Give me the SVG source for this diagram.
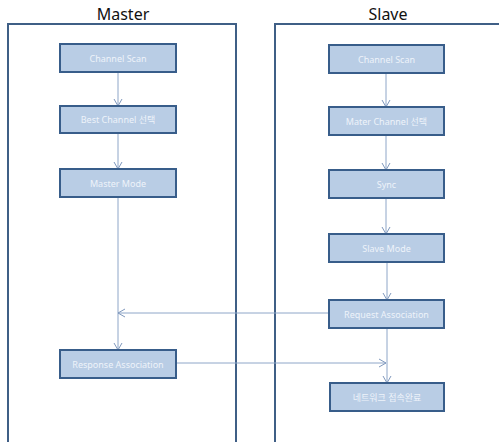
<svg xmlns="http://www.w3.org/2000/svg" width="499" height="442" viewBox="0 0 499 442">
<defs>
<marker id="arr" markerWidth="10" markerHeight="10" refX="8" refY="5" orient="auto" markerUnits="userSpaceOnUse">
<path d="M1,1 L8,5 L1,9" fill="none" stroke="#7f98bd" stroke-width="1"/>
</marker>
</defs>
<style>
.frame{fill:#ffffff;stroke:#3f5f86;stroke-width:2}
.title{font-family:"Noto Sans","Liberation Sans",sans-serif;font-size:16px;fill:#111111;text-anchor:middle}
.box{fill:#b9cde5;stroke:#385d8a;stroke-width:2}
.lbl{font-family:"Noto Sans","Noto Sans CJK KR",sans-serif;font-size:9px;fill:#eef3fa;text-anchor:middle;dominant-baseline:central}
.con{fill:none;stroke:#8ea6c8;stroke-width:1;marker-end:url(#arr)}
</style>
<rect width="499" height="442" fill="#ffffff"/>
<g id="master-lane">
<rect class="frame" x="8" y="24" width="228" height="430"/>
<text class="title" x="123" y="20">Master</text>
</g>
<g id="slave-lane">
<rect class="frame" x="275" y="24" width="240" height="430"/>
<text class="title" x="388" y="20">Slave</text>
</g>
<g id="connectors">
<line class="con" x1="118" y1="72" x2="118" y2="106"/>
<line class="con" x1="118" y1="133" x2="118" y2="169"/>
<line class="con" x1="118" y1="197" x2="118" y2="350"/>
<line class="con" x1="386" y1="73" x2="386" y2="107"/>
<line class="con" x1="386" y1="135" x2="386" y2="170"/>
<line class="con" x1="386" y1="198" x2="386" y2="234"/>
<line class="con" x1="387" y1="262" x2="387" y2="300"/>
<line class="con" x1="387" y1="328" x2="387" y2="383"/>
<line class="con" x1="328" y1="313" x2="118" y2="313"/>
<line class="con" x1="176" y1="363" x2="386" y2="363"/>
</g>
<g id="m-scan"><rect class="box" x="60" y="44" width="116" height="28"/><text class="lbl" x="118" y="58">Channel Scan</text></g>
<g id="m-best"><rect class="box" x="60" y="106" width="116" height="27"/><text class="lbl" x="118" y="119.5">Best Channel 선택</text></g>
<g id="m-mode"><rect class="box" x="60" y="169" width="116" height="28"/><text class="lbl" x="118" y="183">Master Mode</text></g>
<g id="m-resp"><rect class="box" x="60" y="350" width="116" height="28"/><text class="lbl" x="118" y="364">Response Association</text></g>
<g id="s-scan"><rect class="box" x="329" y="45" width="115" height="28"/><text class="lbl" x="386.5" y="59">Channel Scan</text></g>
<g id="s-mater"><rect class="box" x="329" y="107" width="115" height="28"/><text class="lbl" x="386.5" y="121">Mater Channel 선택</text></g>
<g id="s-sync"><rect class="box" x="329" y="170" width="115" height="28"/><text class="lbl" x="386.5" y="184">Sync</text></g>
<g id="s-mode"><rect class="box" x="329" y="234" width="115" height="28"/><text class="lbl" x="386.5" y="248">Slave Mode</text></g>
<g id="s-req"><rect class="box" x="329" y="300" width="115" height="28"/><text class="lbl" x="386.5" y="314">Request Association</text></g>
<g id="s-done"><rect class="box" x="330" y="383" width="114" height="28"/><text class="lbl" x="387" y="397">네트워크 접속완료</text></g>
</svg>
